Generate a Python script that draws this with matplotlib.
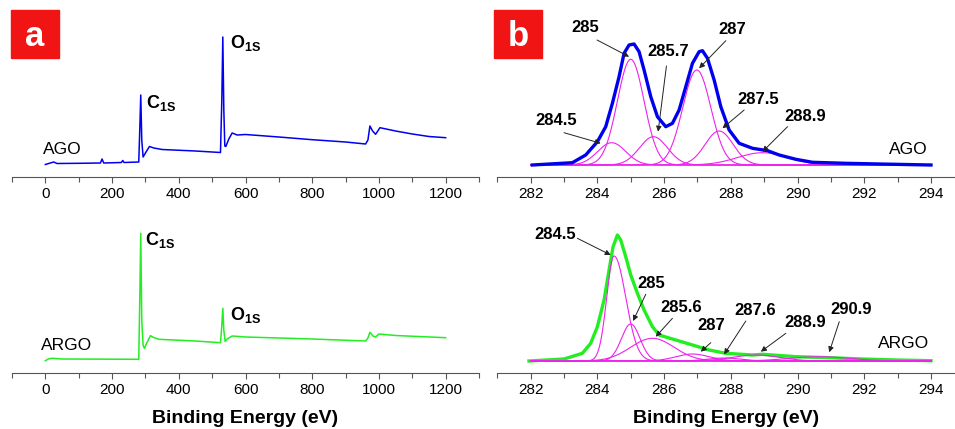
import numpy as np
import matplotlib.pyplot as plt
from matplotlib.patches import Rectangle

plt.rcParams['font.family'] = ['Liberation Sans', 'DejaVu Sans']
plt.rcParams['mathtext.fontset'] = 'custom'
plt.rcParams['mathtext.bf'] = 'Liberation Sans:bold'
plt.rcParams['mathtext.rm'] = 'Liberation Sans'

# ---- survey spectra (binding energy eV, intensity a.u.) ----
ago_survey_x = [0, 10, 25, 35, 100, 165, 170, 175, 228, 232, 236, 280, 283, 286, 289,
                293, 300, 312, 325, 350, 450, 525, 529, 532, 535, 538, 541, 550, 560,
                575, 600, 700, 800, 900, 960, 967, 973, 981, 990, 1003, 1050, 1100,
                1150, 1200]
ago_survey_y = [12.5, 13.5, 15, 13.5, 13.7, 14, 18, 14, 14.5, 16.5, 14.5, 15, 47, 82, 37,
                20, 24, 30.5, 29, 27.5, 26, 24.5, 77, 140, 67, 31, 30.5, 38, 44,
                42, 42.5, 40, 37.3, 35, 33, 37, 51, 46, 42.7, 49.3, 46, 43,
                40.5, 39.3]

argo_survey_x = [0, 10, 20, 50, 280, 283, 286, 289, 293, 297, 305, 315, 325, 340, 450,
                 525, 529, 532, 535, 539, 545, 560, 600, 800, 960, 967, 973, 982, 990,
                 1000, 1050, 1200]
argo_survey_y = [12.6, 14.5, 15, 14.3, 14, 73, 140, 53, 28, 25, 31, 37.6, 35.8, 34, 32.3,
                 30.6, 48, 65, 43, 31.8, 34.3, 37.3, 36.3, 34.3, 32.3, 35.3, 41, 37.3, 36.3,
                 39.3, 37.8, 35.6]

# ---- C1s high resolution envelopes ----
ago_c1s_x = [282.05, 283.25, 283.65, 284.0, 284.25, 284.45, 284.65, 284.8, 284.95, 285.1,
             285.25, 285.4, 285.6, 285.8, 286.05, 286.25, 286.45, 286.65, 286.85, 287.05,
             287.15, 287.3, 287.5, 287.7, 287.95, 288.25, 288.65, 289.1, 289.45, 289.95,
             290.45, 291.45, 292.45, 294.0]
ago_c1s_y = [12, 14.3, 22, 35.3, 50.3, 73.7, 100.3, 123.7, 132, 133,
             125.3, 107, 80.3, 60.3, 50.3, 53.7, 67, 90.3, 113.7, 125.3,
             126.3, 118.7, 97, 70.3, 47, 33.7, 28.7, 26.3, 22, 17.7,
             14.7, 13.7, 13, 12]

argo_c1s_x = [281.95, 283.0, 283.55, 283.8, 284.0, 284.2, 284.35, 284.47, 284.6, 284.7,
              284.85, 285.0, 285.2, 285.4, 285.65, 285.85, 286.35, 286.85, 287.35, 287.85,
              288.65, 288.95, 289.95, 290.95, 291.95, 292.95, 294.0]
argo_c1s_y = [12.3, 14.3, 20, 30, 46.6, 73.3, 103.3, 126.6, 138.3, 133.3,
              116.6, 98.3, 80, 63.3, 46.6, 38.3, 33.3, 28.3, 23.3, 20,
              18.3, 19, 16.6, 15.6, 14.3, 13.3, 12.6]

# fitted components: centre, height above baseline, sigma left, sigma right
ago_base = 12
ago_centres = [284.43, 285.0, 285.68, 286.98, 287.65, 288.95]
ago_heights = [22.3, 105.7, 28.3, 95, 34, 12.3]
ago_sig_l = [0.42, 0.40, 0.42, 0.42, 0.42, 0.75]
ago_sig_r = [0.42, 0.40, 0.42, 0.42, 0.42, 0.75]

argo_base = 12.3
argo_centres = [284.5, 285.0, 285.65, 286.85, 287.8, 288.75, 290.65]
argo_heights = [105, 37, 22.7, 7, 3, 6, 4.3]
argo_sig_l = [0.22, 0.28, 0.65, 0.5, 0.5, 0.7, 0.9]
argo_sig_r = [0.35, 0.28, 0.65, 0.5, 0.5, 0.7, 0.9]

# peak labels: text, text pos, arrow tail, arrow head
ago_labels = ['284.5', '285', '285.7', '287', '287.5', '288.9']
ago_text_xy = [(282.77, 56.2), (283.65, 149), (286.12, 125), (288.04, 147), (288.82, 78), (290.23, 60.8)]
ago_tail_xy = [(283.0, 44.3), (283.99, 137), (286.07, 111), (287.85, 136.3), (288.4, 67), (289.7, 50.3)]
ago_head_xy = [(284.1, 33.7), (284.95, 120.3), (285.82, 45.3), (287.05, 108.7), (287.75, 48.7), (288.95, 25.3)]

argo_labels = ['284.5', '285', '285.6', '287', '287.6', '288.9', '290.9']
argo_text_xy = [(282.75, 138.8), (285.62, 90), (286.52, 66.3), (287.41, 47.5), (288.74, 62.5),
                (290.22, 51), (291.62, 64.3)]
argo_tail_xy = [(283.4, 135), (285.45, 79), (286.25, 55), (287.4, 30.6), (288.45, 52.3),
                (289.65, 40), (291.25, 51.6)]
argo_head_xy = [(284.4, 118.3), (285.07, 52.3), (285.75, 36.6), (287.1, 21.6), (287.8, 19),
                (288.9, 21.6), (290.95, 21)]

BLUE = '#0000ee'
GREEN = '#22ee22'
MAGENTA = '#ee22ee'
W, H = 955, 429


def px_axes(fig, x0, x1, ytop, ybot):
    return fig.add_axes([x0 / W, (H - ybot) / H, (x1 - x0) / W, (ybot - ytop) / H])


def style(ax):
    for s in ['left', 'right', 'top']:
        ax.spines[s].set_visible(False)
    ax.spines['bottom'].set_color('#555555')
    ax.spines['bottom'].set_linewidth(0.8)
    ax.set_yticks([])
    ax.tick_params(axis='x', which='both', direction='out', color='#555555', labelsize=11, pad=2.5)
    ax.tick_params(axis='x', which='major', length=4.5, width=0.8)
    ax.tick_params(axis='x', which='minor', length=3.5, width=0.8)


def component(x, c, h, sl, sr, base):
    sig = np.where(x < c, sl, sr)
    return base + h * np.exp(-(x - c) ** 2 / (2 * sig ** 2))


fig = plt.figure(figsize=(W / 100, H / 100), dpi=100)

ax1 = px_axes(fig, 12, 479, 5, 177)
ax2 = px_axes(fig, 12, 479, 221, 373.3)
ax3 = px_axes(fig, 497.3, 955, 5, 177)
ax4 = px_axes(fig, 497.3, 955, 221, 373.3)

for ax in [ax1, ax2]:
    style(ax)
    ax.set_xlim(-100, 1300)
    ax.set_xticks(range(0, 1201, 200))
    ax.set_xticks(range(-100, 1301, 200), minor=True)
for ax in [ax3, ax4]:
    style(ax)
    ax.set_xlim(281, 294.72)
    ax.set_xticks(range(282, 295, 2))
    ax.set_xticks(range(281, 295, 2), minor=True)
for ax in [ax1, ax3]:
    ax.set_ylim(0, 172)
for ax in [ax2, ax4]:
    ax.set_ylim(0, 152.3)

# survey
ax1.plot(ago_survey_x, ago_survey_y, color=BLUE, lw=1.1)
ax2.plot(argo_survey_x, argo_survey_y, color=GREEN, lw=1.1)

ax1.text(-6, 28, 'AGO', fontsize=12.5, ha='left', va='center')
ax2.text(-13, 27.3, 'ARGO', fontsize=12.5, ha='left', va='center')
ax1.text(303, 69, r'$\mathbf{C_{1S}}$', fontsize=13, ha='left', va='baseline')
ax1.text(555, 128.7, r'$\mathbf{O_{1S}}$', fontsize=13, ha='left', va='baseline')
ax2.text(300, 128.3, r'$\mathbf{C_{1S}}$', fontsize=13, ha='left', va='baseline')
ax2.text(553, 53.3, r'$\mathbf{O_{1S}}$', fontsize=13, ha='left', va='baseline')

# high resolution
xx = np.linspace(282, 294, 800)
for c, h, sl, sr in zip(ago_centres, ago_heights, ago_sig_l, ago_sig_r):
    ax3.plot(xx, component(xx, c, h, sl, sr, ago_base), color=MAGENTA, lw=0.8)
ax3.plot(ago_c1s_x, ago_c1s_y, color=BLUE, lw=2.4, solid_joinstyle='round')
ax4.plot(argo_c1s_x, argo_c1s_y, color=GREEN, lw=2.4, solid_joinstyle='round')
for c, h, sl, sr in zip(argo_centres, argo_heights, argo_sig_l, argo_sig_r):
    ax4.plot(xx, component(xx, c, h, sl, sr, argo_base), color=MAGENTA, lw=0.8)

ax3.text(293.9, 27.5, 'AGO', fontsize=12.5, ha='right', va='center')
ax4.text(293.95, 29.3, 'ARGO', fontsize=12.5, ha='right', va='center')

for ax, labels, txy, tail, head in [(ax3, ago_labels, ago_text_xy, ago_tail_xy, ago_head_xy),
                                    (ax4, argo_labels, argo_text_xy, argo_tail_xy, argo_head_xy)]:
    for lab, t, a, b in zip(labels, txy, tail, head):
        ax.text(t[0], t[1], lab, fontsize=12, fontweight='bold', ha='center', va='center')
        ax.annotate('', xy=b, xytext=a,
                    arrowprops=dict(arrowstyle='-|>', color='#222222', lw=0.7,
                                    mutation_scale=8, shrinkA=0, shrinkB=0))

# panel letters
for x0, letter in [(10.7, 'a'), (494, 'b')]:
    fig.patches.append(Rectangle((x0 / W, (H - 58.3) / H), 48.3 / W, 48.3 / H,
                                 transform=fig.transFigure, color='#f01414', zorder=5))
    fig.text((x0 + 24.2) / W, (H - 36) / H, letter, color='white', fontsize=25,
             fontweight='bold', ha='center', va='center', zorder=6)

for ax in [ax2, ax4]:
    ax.set_xlabel('Binding Energy (eV)', fontsize=14, fontweight='bold', labelpad=9)

fig.savefig('out.png', dpi=100)
